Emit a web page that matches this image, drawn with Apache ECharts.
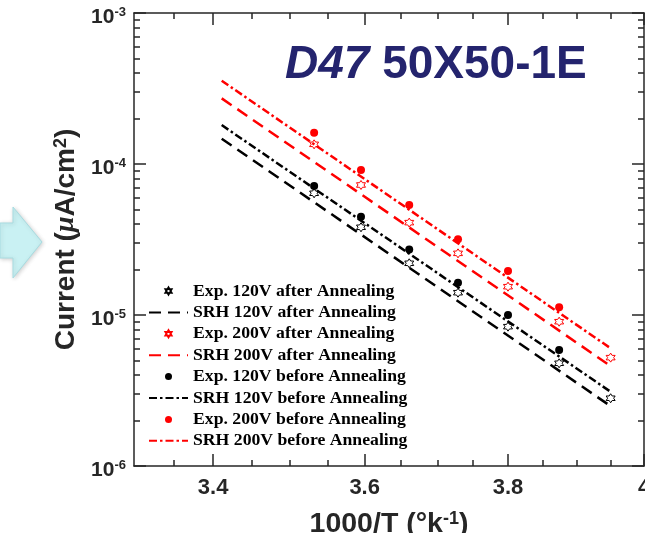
<!DOCTYPE html>
<html><head><meta charset="utf-8">
<script src="https://cdn.jsdelivr.net/npm/echarts@6/dist/echarts.min.js"></script>
<style>html,body{margin:0;padding:0;background:#fff}#c{width:645px;height:533px}</style>
</head><body><div id="c"></div>
<script>
// ---- data (1000/T in K^-1, current in uA/cm^2) ----
const xExp = [3.532, 3.595, 3.661, 3.729, 3.800, 3.874, 3.950];
const exp120After  = [6.40e-5, 3.81e-5, 2.20e-5, 1.405e-5, 8.37e-6, 4.79e-6, 2.81e-6];
const exp200After  = [1.35e-4, 7.26e-5, 4.09e-5, 2.56e-5, 1.54e-5, 9.03e-6, 5.22e-6];
const exp120Before = [7.15e-5, 4.48e-5, 2.72e-5, 1.636e-5, 1.0e-5, 5.87e-6];
const exp200Before = [1.612e-4, 9.13e-5, 5.35e-5, 3.17e-5, 1.956e-5, 1.125e-5];
const xSRH = [3.411, 3.950];
const srh120After  = [1.47e-4, 2.49e-6];
const srh200After  = [2.72e-4, 4.59e-6];
const srh120Before = [1.81e-4, 3.10e-6];
const srh200Before = [3.56e-4, 6.02e-6];
const xMajorTicks = [3.4, 3.6, 3.8, 4.0];
const xMinorTicks = [3.35, 3.45, 3.5, 3.55, 3.65, 3.7, 3.75, 3.85, 3.9, 3.95];
const yMajorTicks = [1e-6, 1e-5, 1e-4, 1e-3];
const yMinorTicks = [2e-6,3e-6,4e-6,5e-6,6e-6,7e-6,8e-6,9e-6,
                     2e-5,3e-5,4e-5,5e-5,6e-5,7e-5,8e-5,9e-5,
                     2e-4,3e-4,4e-4,5e-4,6e-4,7e-4,8e-4,9e-4];
const titleMain = 'D47';
const titleSub = '50X50-1E';

const AX = '#262626';
const SANS = '"Liberation Sans", Arial, sans-serif';
const SERIF = '"Liberation Serif", "Times New Roman", serif';
const hexagram = 'path://M10,0L12.887,5L18.66,5L15.774,10L18.66,15L12.887,15L10,20L7.113,15L1.34,15L4.226,10L1.34,5L7.113,5Z';

function xAx(pos, ticks, len, showLine, label) {
  return {
    type: 'log', logBase: 10, position: pos, min: 3.3, max: 4.0,
    axisLine: {show: showLine, lineStyle: {color: AX, width: 1.5}},
    axisTick: {show: true, inside: true, length: len, customValues: ticks, lineStyle: {color: AX, width: 1.5}},
    axisLabel: label || {show: false},
    splitLine: {show: false}, minorTick: {show: false}, minorSplitLine: {show: false}
  };
}
function yAx(pos, ticks, len, showLine, label) {
  return {
    type: 'log', logBase: 10, position: pos, min: 1e-6, max: 1e-3,
    axisLine: {show: showLine, lineStyle: {color: AX, width: 1.5}},
    axisTick: {show: true, inside: true, length: len, customValues: ticks, lineStyle: {color: AX, width: 1.5}},
    axisLabel: label || {show: false},
    splitLine: {show: false}, minorTick: {show: false}, minorSplitLine: {show: false}
  };
}

const xMain = xAx('bottom', xMajorTicks, 12, true, {
  show: true, customValues: xMajorTicks, margin: 11,
  formatter: v => String(+(+v).toFixed(2)),
  fontSize: 22, fontWeight: 'bold', fontFamily: SANS, color: AX
});
xMain.name = '1000/T (°k{s|-1})';
xMain.nameLocation = 'middle';
xMain.nameGap = 44;
xMain.nameTextStyle = {fontSize: 28.5, fontWeight: 'bold', fontFamily: SANS, color: AX,
  rich: {s: {fontSize: 18, fontWeight: 'bold', fontFamily: SANS, color: AX, verticalAlign: 'top', lineHeight: 12}}};

const yMain = yAx('left', yMajorTicks, 12, true, {
  show: true, customValues: yMajorTicks, margin: 8, padding: [9, 0, 0, 0],
  formatter: v => '{b|10}{s|' + Math.round(Math.log10(v)) + '}',
  rich: {
    b: {fontSize: 21, fontWeight: 'bold', fontFamily: SANS, color: AX, lineHeight: 24},
    s: {fontSize: 13, fontWeight: 'bold', fontFamily: SANS, color: AX, lineHeight: 8, verticalAlign: 'top'}
  }
});
yMain.name = 'Current ({mu|μ}A/cm{s|2})';
yMain.nameLocation = 'middle';
yMain.nameGap = 54;
yMain.nameTextStyle = {fontSize: 28, fontWeight: 'bold', fontFamily: SANS, color: AX,
  rich: {
    mu: {fontSize: 28, fontStyle: 'italic', fontFamily: SERIF, color: AX},
    s: {fontSize: 18, fontWeight: 'bold', fontFamily: SANS, color: AX, verticalAlign: 'top', lineHeight: 12}
  }};

function scat(name, arr, color, open) {
  return {
    name, type: 'scatter', xAxisIndex: 0, yAxisIndex: 0,
    data: arr.map((v, i) => [xExp[i], v]),
    symbol: open ? hexagram : 'circle', symbolSize: open ? 9 : 8,
    itemStyle: open ? {color: 'rgba(255,255,255,0)', borderColor: color, borderWidth: 1, opacity: 1} : {color: color, opacity: 1},
    z: 4, silent: true
  };
}
function srh(name, arr, color, dash) {
  return {
    name, type: 'line', xAxisIndex: 0, yAxisIndex: 0,
    data: arr.map((v, i) => [xSRH[i], v]),
    symbol: 'none', showSymbol: false,
    lineStyle: {color: color, width: 2.5, type: dash, cap: 'butt'}, itemStyle: {color: color},
    z: 3, silent: true
  };
}
const DASH = [12, 7];
const DASHDOT = [8, 3, 2.5, 3];

const series = [
  scat('Exp. 120V after Annealing', exp120After, '#000', true),
  srh('SRH 120V after Annealing', srh120After, '#000', DASH),
  scat('Exp. 200V after Annealing', exp200After, '#ff0000', true),
  srh('SRH 200V after Annealing', srh200After, '#ff0000', DASH),
  scat('Exp. 120V before Annealing', exp120Before, '#000', false),
  srh('SRH 120V before Annealing', srh120Before, '#000', DASHDOT),
  scat('Exp. 200V before Annealing', exp200Before, '#ff0000', false),
  srh('SRH 200V before Annealing', srh200Before, '#ff0000', DASHDOT)
];

const option = {
  animation: false,
  backgroundColor: '#fff',
  grid: {left: 134, right: 1, top: 13, bottom: 67, containLabel: false, outerBoundsMode: 'none'},
  xAxis: [xMain, xAx('bottom', xMinorTicks, 6, false), xAx('top', xMajorTicks, 12, true), xAx('top', xMinorTicks, 6, false)],
  yAxis: [yMain, yAx('left', yMinorTicks, 6, false), yAx('right', yMajorTicks, 12, true), yAx('right', yMinorTicks, 6, false)],
  legend: {
    orient: 'vertical', left: 148, top: 282, padding: 0,
    itemWidth: 39, itemHeight: 7, itemGap: 3.4,
    textStyle: {fontFamily: SERIF, fontWeight: 'bold', fontSize: 17.7, color: '#000', lineHeight: 18},
    selectedMode: false,
    data: series.map(s => s.type === 'line' ? {name: s.name, itemStyle: {opacity: 0}} : {name: s.name})
  },
  series: series,
  graphic: [
    {type: 'polygon', shape: {points: [[0,223],[13,223],[13,207],[42,242],[13,278],[13,258],[0,258]]},
     style: {fill: '#c9f1f3', stroke: '#a8dce1', lineWidth: 1, shadowBlur: 4, shadowColor: 'rgba(0,0,0,0.18)', shadowOffsetX: 1, shadowOffsetY: 1}},
    {type: 'text', x: 285, y: 65.5,
     style: {text: '{i|' + titleMain + '} ' + titleSub, verticalAlign: 'middle', align: 'left',
       fontSize: 46, fontWeight: 'bold', fontFamily: SANS, fill: '#24246e',
       rich: {i: {fontSize: 46, fontWeight: 'bold', fontStyle: 'italic', fontFamily: SANS, fill: '#24246e', color: '#24246e'}}}}
  ]
};
const chart = echarts.init(document.getElementById('c'), null, {renderer: 'canvas'});
chart.setOption(option);
</script></body></html>
